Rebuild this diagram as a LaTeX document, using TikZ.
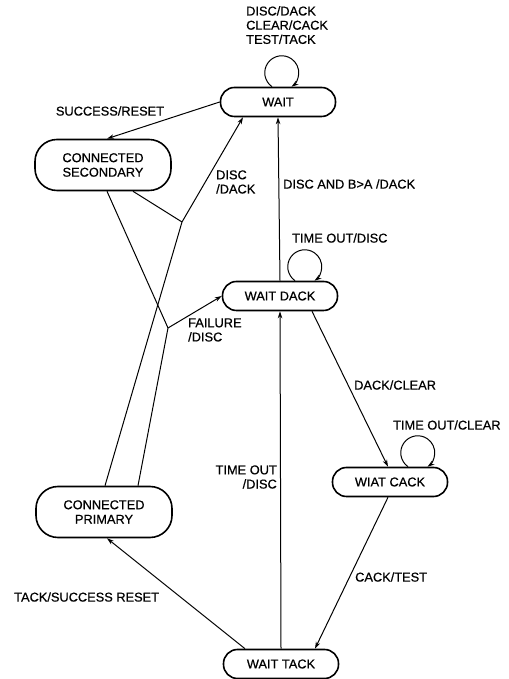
\documentclass[tikz,border=0pt]{standalone}
\usepackage{fontspec}
\setmainfont{Liberation Sans}[BoldFont=Liberation Sans,BoldFeatures={FakeBold=0.6}]
\usetikzlibrary{arrows.meta}

\begin{document}
\begin{tikzpicture}[x=1pt,y=1pt,
  state/.style={draw,line width=1.6pt,rounded corners=14pt,minimum width=115pt,minimum height=29pt,
    inner sep=0pt,align=center,font=\fontsize{12.8}{14.5}\selectfont\bfseries},
  bigstate/.style={state,minimum width=136pt,minimum height=51pt,rounded corners=22pt},
  lbl/.style={inner sep=0pt,font=\fontsize{12.8}{14.2}\selectfont\bfseries},
  ln/.style={line width=1pt},
  arr/.style={ln,-{Stealth[length=7pt,width=4.5pt]}}]
\useasboundingbox (0,0) rectangle (508,679);

% states
\node[state] (wait) at (278,577) {WAIT};
\node[bigstate] (consec) at (103,514) {CONNECTED\\SECONDARY};
\node[state] (waitdack) at (280,383) {WAIT DACK};
\node[state] (wiatcack) at (390,197) {WIAT CACK};
\node[bigstate] (conprim) at (104,167) {CONNECTED\\PRIMARY};
\node[state] (waittack) at (281,15) {WAIT TACK};

% junctions
\coordinate (j1) at (182,457);
\coordinate (j2) at (168,351);

% self loops
\draw[arr] ([xshift=-6pt]wait.north) arc[start angle=235,end angle=-55,radius=17pt];
\draw[arr] ([xshift=15pt]waitdack.north) arc[start angle=235,end angle=-55,radius=17pt];
\draw[arr] ([xshift=18pt]wiatcack.north) arc[start angle=235,end angle=-55,radius=17pt];

% transitions
\draw[arr] (wait.west) -- ([xshift=4pt]consec.north);
\draw[ln] ([xshift=30pt]consec.south) -- (j1);
\draw[ln] ([xshift=1pt]conprim.north) -- (j1);
\draw[arr] (j1) -- ([xshift=-35pt]wait.south);
\draw[ln] ([xshift=4pt]consec.south) -- (j2);
\draw[ln] ([xshift=34pt]conprim.north) -- (j2);
\draw[arr] (j2) -- (waitdack.west);
\draw[arr] (waitdack.north) -- (wait.south);
\draw[arr] (waittack.north) -- (waitdack.south);
\draw[arr] ([xshift=32pt]waitdack.south) -- ([xshift=-2pt]wiatcack.north);
\draw[arr] ([xshift=-2pt]wiatcack.south) -- ([xshift=34pt]waittack.north);
\draw[arr] ([xshift=-36pt]waittack.north) -- ([xshift=3pt]conprim.south);

% labels
\node[lbl,align=left,anchor=north west] (lwait) at (246,673) {DISC/DACK\\CLEAR/CACK\\TEST/TACK};
\node[lbl] (lsucc) at (110,568) {SUCCESS/RESET};
\node[lbl,align=left,anchor=west] (ldisc) at (216,497) {DISC\\/DACK};
\node[lbl,anchor=west] (lba) at (283,495) {DISC AND B>A /DACK};
\node[lbl,anchor=west] (ltod) at (292,441) {TIME OUT/DISC};
\node[lbl,align=left,anchor=west] (lfail) at (188,349) {FAILURE\\/DISC};
\node[lbl,anchor=west] (ldack) at (354,294) {DACK/CLEAR};
\node[lbl,anchor=west] (ltoc) at (393,254) {TIME OUT/CLEAR};
\node[lbl,align=right,anchor=east] (lto) at (277,202) {TIME OUT\\/DISC};
\node[lbl,anchor=west] (lcack) at (355,102) {CACK/TEST};
\node[lbl,anchor=west] (ltack) at (14,82) {TACK/SUCCESS RESET};
\end{tikzpicture}
\end{document}
